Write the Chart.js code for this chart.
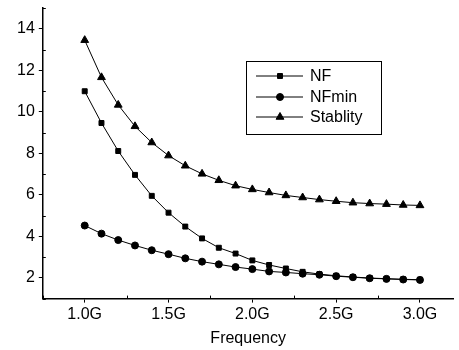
<!DOCTYPE html>
<html>
<head>
<meta charset="utf-8">
<script src="https://cdn.jsdelivr.net/npm/chart.js@4"></script>
<style>
  html, body { margin: 0; padding: 0; background: #fff; }
  #wrap { width: 459px; height: 350px; }
</style>
</head>
<body>
<div id="wrap"><canvas id="grafico"></canvas></div>
<script>
const freq = [1.0, 1.1, 1.2, 1.3, 1.4, 1.5, 1.6, 1.7, 1.8, 1.9, 2.0, 2.1, 2.2, 2.3, 2.4, 2.5, 2.6, 2.7, 2.8, 2.9, 3.0];
const nf = [10.99, 9.46, 8.11, 6.96, 5.95, 5.14, 4.47, 3.90, 3.45, 3.17, 2.84, 2.62, 2.45, 2.29, 2.18, 2.10, 2.04, 1.99, 1.96, 1.93, 1.91];
const nfMin = [4.52, 4.13, 3.82, 3.56, 3.33, 3.14, 2.94, 2.78, 2.65, 2.52, 2.42, 2.31, 2.26, 2.20, 2.15, 2.08, 2.03, 1.98, 1.95, 1.92, 1.90];
const stablity = [13.45, 11.66, 10.33, 9.30, 8.52, 7.89, 7.40, 7.01, 6.70, 6.44, 6.26, 6.11, 5.97, 5.87, 5.77, 5.69, 5.62, 5.58, 5.55, 5.51, 5.49];
const xTicks = [1.0, 1.5, 2.0, 2.5, 3.0];
const yTicks = [2, 4, 6, 8, 10, 12, 14];
const xMinor = [0.75, 1.25, 1.75, 2.25, 2.75];
const yMinor = [1, 3, 5, 7, 9, 11, 13, 15];
const seriesNames = ['NF', 'NFmin', 'Stablity'];

function pares(valores) {
    return freq.map(function (f, i) { return { x: f, y: valores[i] }; });
}

// ticks menores
const ticksMenores = {
    id: 'ticksMenores',
    afterDraw: function (chart) {
        const ctx = chart.ctx;
        const sx = chart.scales.x, sy = chart.scales.y;
        const area = chart.chartArea;
        ctx.save();
        ctx.strokeStyle = '#000';
        ctx.lineWidth = 1;
        ctx.beginPath();
        xMinor.forEach(function (v) {
            const px = Math.round(sx.getPixelForValue(v)) + 0.5;
            ctx.moveTo(px, area.bottom);
            ctx.lineTo(px, area.bottom - 3);
        });
        yMinor.forEach(function (v) {
            const py = Math.round(sy.getPixelForValue(v)) + 0.5;
            ctx.moveTo(area.left, py);
            ctx.lineTo(area.left + 3, py);
        });
        ctx.stroke();
        ctx.restore();
    }
};

// legenda desenhada dentro da área do gráfico
const legendaInterna = {
    id: 'legendaInterna',
    afterDraw: function (chart) {
        const ctx = chart.ctx;
        const x0 = 246, y0 = 61, w = 135, h = 73;
        ctx.save();
        ctx.fillStyle = '#fff';
        ctx.fillRect(x0, y0, w, h);
        ctx.strokeStyle = '#000';
        ctx.lineWidth = 1;
        ctx.strokeRect(x0 + 0.5, y0 + 0.5, w, h);
        const linhas = [76, 97, 117];
        chart.data.datasets.forEach(function (ds, i) {
            const y = linhas[i];
            ctx.beginPath();
            ctx.moveTo(256, y);
            ctx.lineTo(303, y);
            ctx.strokeStyle = '#000';
            ctx.stroke();
            ctx.fillStyle = '#000';
            Chart.helpers.drawPoint(ctx, {
                pointStyle: ds.pointStyle,
                radius: ds.pointRadius,
                borderWidth: 1
            }, 280, y);
            ctx.fillStyle = '#000';
            ctx.font = '16px "Liberation Sans", Arial, sans-serif';
            ctx.textBaseline = 'middle';
            ctx.fillText(ds.label, 310, y + 1);
        });
        ctx.restore();
    }
};

const ctxGrafico = document.getElementById('grafico').getContext('2d');
const grafico = new Chart(ctxGrafico, {
    type: 'line',
    data: {
        datasets: [{
            label: seriesNames[0],
            data: pares(nf),
            pointStyle: 'rect',
            pointRadius: 3.5
        }, {
            label: seriesNames[1],
            data: pares(nfMin),
            pointStyle: 'circle',
            pointRadius: 3.5
        }, {
            label: seriesNames[2],
            data: pares(stablity),
            pointStyle: 'triangle',
            pointRadius: 4.5
        }].map(function (ds) {
            ds.borderColor = '#000';
            ds.backgroundColor = '#000';
            ds.pointBackgroundColor = '#000';
            ds.pointBorderColor = '#000';
            ds.borderWidth = 1;
            ds.tension = 0;
            ds.fill = false;
            return ds;
        })
    },
    options: {
        responsive: true,
        maintainAspectRatio: false,
        animation: false,
        layout: {
            padding: { left: 13, right: 0, top: 8, bottom: 2 }
        },
        scales: {
            x: {
                type: 'linear',
                min: 0.75,
                max: 3.2,
                afterBuildTicks: function (axis) {
                    axis.ticks = xTicks.map(function (v) { return { value: v }; });
                },
                ticks: {
                    color: '#000',
                    font: { family: '"Liberation Sans", Arial, sans-serif', size: 16 },
                    maxRotation: 0,
                    padding: 2,
                    callback: function (value) {
                        return value.toFixed(1) + 'G';
                    }
                },
                grid: { drawOnChartArea: false, drawTicks: true, tickLength: 4, color: '#000' },
                border: { color: '#000', width: 1.5 },
                title: {
                    display: true,
                    text: 'Frequency',
                    color: '#000',
                    font: { family: '"Liberation Sans", Arial, sans-serif', size: 16 },
                    padding: { top: 3, bottom: 0 }
                }
            },
            y: {
                min: 1,
                max: 15,
                afterBuildTicks: function (axis) {
                    axis.ticks = yTicks.map(function (v) { return { value: v }; });
                },
                afterFit: function (axis) {
                    axis.paddingTop = 0;
                    axis.paddingBottom = 0;
                },
                ticks: {
                    color: '#000',
                    font: { family: '"Liberation Sans", Arial, sans-serif', size: 16 },
                    padding: 4
                },
                grid: { drawOnChartArea: false, drawTicks: true, tickLength: 4, color: '#000' },
                border: { color: '#000', width: 1.5 }
            }
        },
        plugins: {
            legend: { display: false },
            tooltip: { enabled: false }
        }
    },
    plugins: [ticksMenores, legendaInterna]
});
</script>
</body>
</html>
